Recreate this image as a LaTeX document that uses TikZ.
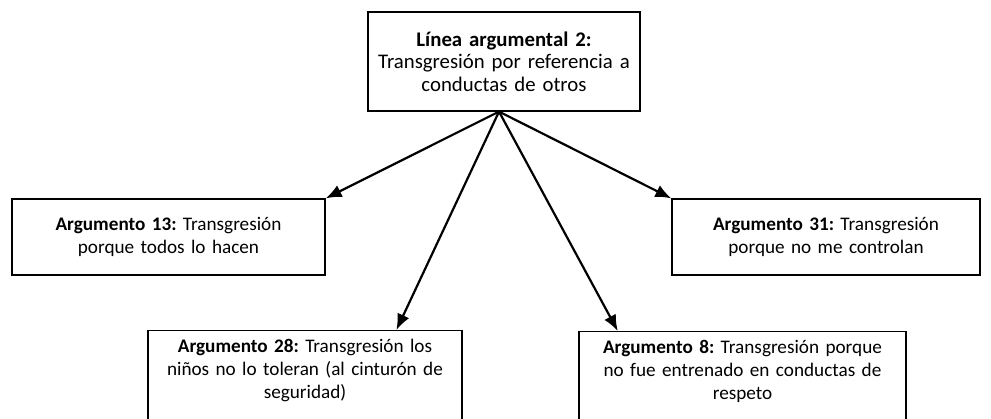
\documentclass[tikz,border=0pt]{standalone}
\usepackage{fontspec}
\setmainfont{Carlito}
\usetikzlibrary{arrows.meta,calc}

\tikzset{
  caja/.style={draw, line width=0.6pt, align=center, inner xsep=0pt,
    font=\fontsize{9.6}{11.6}\selectfont},
  flecha/.style={line width=1.1pt, -{Latex[length=8pt,width=6.5pt]}}
}

\begin{document}
\frenchspacing
\begin{tikzpicture}[x=0.5pt,y=-0.5pt]
\useasboundingbox (0,0) rectangle (991,418);

\node [caja, font=\fontsize{10.4}{11.2}\selectfont, text width=132pt, minimum width=136pt, minimum height=49.5pt] (linea) at (504,61.5)
  {\textbf{Línea argumental 2:}\\Transgresión por referencia a\\conductas de otros};
\node [caja, text width=152pt, minimum width=156.5pt, minimum height=38pt] (arg13) at (168.5,237)
  {\textbf{Argumento 13:} Transgresión\\porque todos lo hacen};
\node [caja, text width=150pt, minimum width=154pt, minimum height=38pt] (arg31) at (826,237)
  {\textbf{Argumento 31:} Transgresión\\porque no me controlan};
\node [caja, anchor=north, text width=153pt, minimum width=157pt, inner ysep=4.2pt, text depth=50pt] (arg28) at (305,330)
  {\textbf{Argumento 28:} Transgresión los\\niños no lo toleran (al cinturón de\\seguridad)};
\node [caja, anchor=north, text width=159pt, minimum width=163.5pt, inner ysep=4.2pt, text depth=50pt] (arg8) at (742.5,331)
  {\textbf{Argumento 8:} Transgresión porque\\no fue entrenado en conductas de\\respeto};

% flechas desde la linea argumental
\draw [flecha] ([xshift=-2.5pt]linea.south) -- (arg13.north east);
\draw [flecha] ([xshift=-2.5pt]linea.south) -- (arg31.north west);
\draw [flecha] ([xshift=-2.5pt]linea.south) -- ($(arg28.north west)!0.79!(arg28.north east)$);
\draw [flecha] ([xshift=-2.5pt]linea.south) -- ($(arg8.north west)!0.12!(arg8.north east)$);
\end{tikzpicture}
\end{document}
